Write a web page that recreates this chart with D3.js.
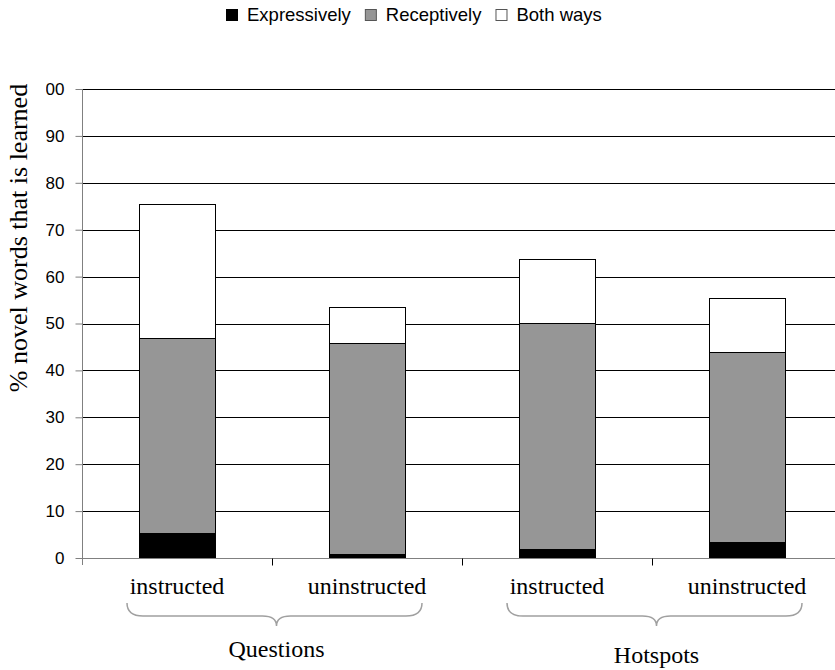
<!DOCTYPE html>
<html>
<head>
<meta charset="utf-8">
<script src="https://cdn.jsdelivr.net/npm/d3@7/dist/d3.min.js"></script>
<style>
  html, body { margin: 0; padding: 0; background: #fff; }
  svg { display: block; }
</style>
</head>
<body>
<svg id="chart" width="835" height="670"></svg>
<script>
// ---- data ----
const categories = ["Q-instructed", "Q-uninstructed", "H-instructed", "H-uninstructed"];
const categoryLabels = ["instructed", "uninstructed", "instructed", "uninstructed"];
const seriesNames = ["Expressively", "Receptively", "Both ways"];
const expressively = [5.3, 0.8, 1.9, 3.4];
const receptively = [41.6, 45.0, 48.2, 40.5];
const bothWays = [28.6, 7.7, 13.7, 11.5];
const groups = ["Questions", "Hotspots"];
const groupMembers = [[0, 1], [2, 3]];
const yTicks = [0, 10, 20, 30, 40, 50, 60, 70, 80, 90, 100];

// ---- setup ----
const svg = d3.select("#chart");
const colors = ["#000000", "#969696", "#ffffff"];
const x = d3.scaleBand().domain(categories).range([82, 842]).paddingInner(0.6).paddingOuter(0.3);
const y = d3.scaleLinear().domain([0, 100]).range([558, 89]);

const rows = categories.map((c, i) => ({
  cat: c,
  "Expressively": expressively[i],
  "Receptively": receptively[i],
  "Both ways": bothWays[i]
}));
const stacked = d3.stack().keys(seriesNames)(rows);

// gridlines
svg.append("g").selectAll("line").data(yTicks.filter(d => d > 0)).join("line")
  .attr("x1", 82).attr("x2", 835)
  .attr("y1", d => Math.round(y(d)) + 0.5).attr("y2", d => Math.round(y(d)) + 0.5)
  .attr("stroke", "#000").attr("stroke-width", 1);

// bars
svg.append("g").selectAll("g").data(stacked).join("g")
  .attr("fill", (d, i) => colors[i])
  .selectAll("rect").data(d => d).join("rect")
  .attr("x", d => Math.round(x(d.data.cat)) + 0.5)
  .attr("width", x.bandwidth())
  .attr("y", d => Math.round(y(d[1])) + 0.5)
  .attr("height", d => Math.round(y(d[0])) - Math.round(y(d[1])))
  .attr("stroke", "#000").attr("stroke-width", 1);

// y axis
const yAxis = d3.axisLeft(y).tickValues(yTicks).tickSize(7).tickPadding(11);
const yg = svg.append("g").attr("transform", "translate(82.5,0)").call(yAxis);
yg.select(".domain").attr("d", "M0," + y(100) + "V565").attr("stroke", "#808080");
yg.selectAll(".tick line").attr("stroke", "#808080");
yg.selectAll(".tick text").attr("font-family", "Liberation Sans, Arial, sans-serif")
  .attr("font-size", 17).attr("fill", "#000");

// x axis
const xg = svg.append("g").attr("transform", "translate(0,558.5)");
xg.append("line").attr("x1", 82).attr("x2", 835).attr("y1", 0).attr("y2", 0).attr("stroke", "#808080");
const step = x.step();
const boundaries = categories.map((c, i) => x(c) - x.paddingInner() * step / 2 + step).slice(0, 3);
xg.selectAll("line.tk").data(boundaries).join("line").attr("class", "tk")
  .attr("x1", d => Math.round(d) + 0.5).attr("x2", d => Math.round(d) + 0.5)
  .attr("y1", 0).attr("y2", 7).attr("stroke", "#000");

// category labels
svg.append("g").selectAll("text").data(categories).join("text")
  .attr("x", d => x(d) + x.bandwidth() / 2)
  .attr("y", 594)
  .attr("text-anchor", "middle")
  .attr("font-family", "Liberation Serif, Times New Roman, serif")
  .attr("font-size", 24)
  .text((d, i) => categoryLabels[i]);

// braces + group labels
groupMembers.forEach((m, gi) => {
  const c1 = x(categories[m[0]]) + x.bandwidth() / 2;
  const c2 = x(categories[m[m.length - 1]]) + x.bandwidth() / 2;
  const x0 = c1 - 50, x1 = c2 + 55, tip = (x0 + x1) / 2 + 2;
  const top = 603, mid = 616, bot = 626;
  const p = d3.path();
  p.moveTo(x0, top);
  p.quadraticCurveTo(x0, mid, x0 + 16, mid);
  p.lineTo(tip - 14, mid);
  p.quadraticCurveTo(tip, mid, tip, bot);
  p.quadraticCurveTo(tip, mid, tip + 14, mid);
  p.lineTo(x1 - 16, mid);
  p.quadraticCurveTo(x1, mid, x1, top);
  svg.append("path").attr("d", p.toString()).attr("fill", "none")
    .attr("stroke", "#a0a0a0").attr("stroke-width", 1.5);
  svg.append("text").attr("x", tip).attr("y", gi === 0 ? 657 : 663)
    .attr("text-anchor", "middle")
    .attr("font-family", "Liberation Serif, Times New Roman, serif")
    .attr("font-size", 24).text(groups[gi]);
});

// y title (its white box covers the left of some tick labels)
svg.append("rect").attr("x", 0).attr("y", 78).attr("width", 46).attr("height", 212).attr("fill", "#fff");
svg.append("text")
  .attr("transform", "translate(27,238) rotate(-90)")
  .attr("text-anchor", "middle")
  .attr("font-family", "Liberation Serif, Times New Roman, serif")
  .attr("font-size", 26)
  .text("% novel words that is learned");

// legend
const leg = svg.append("g");
let lx = 226;
seriesNames.forEach((s, i) => {
  leg.append("rect").attr("x", lx + 0.5).attr("y", 9.5).attr("width", 11).attr("height", 11)
    .attr("fill", colors[i]).attr("stroke", i === 0 ? "#000" : "#555");
  const t = leg.append("text").attr("x", lx + 21).attr("y", 21)
    .attr("font-family", "Liberation Sans, Arial, sans-serif")
    .attr("font-size", 18.5).text(s);
  lx += 21 + t.node().getComputedTextLength() + 14;
});
</script>
</body>
</html>
